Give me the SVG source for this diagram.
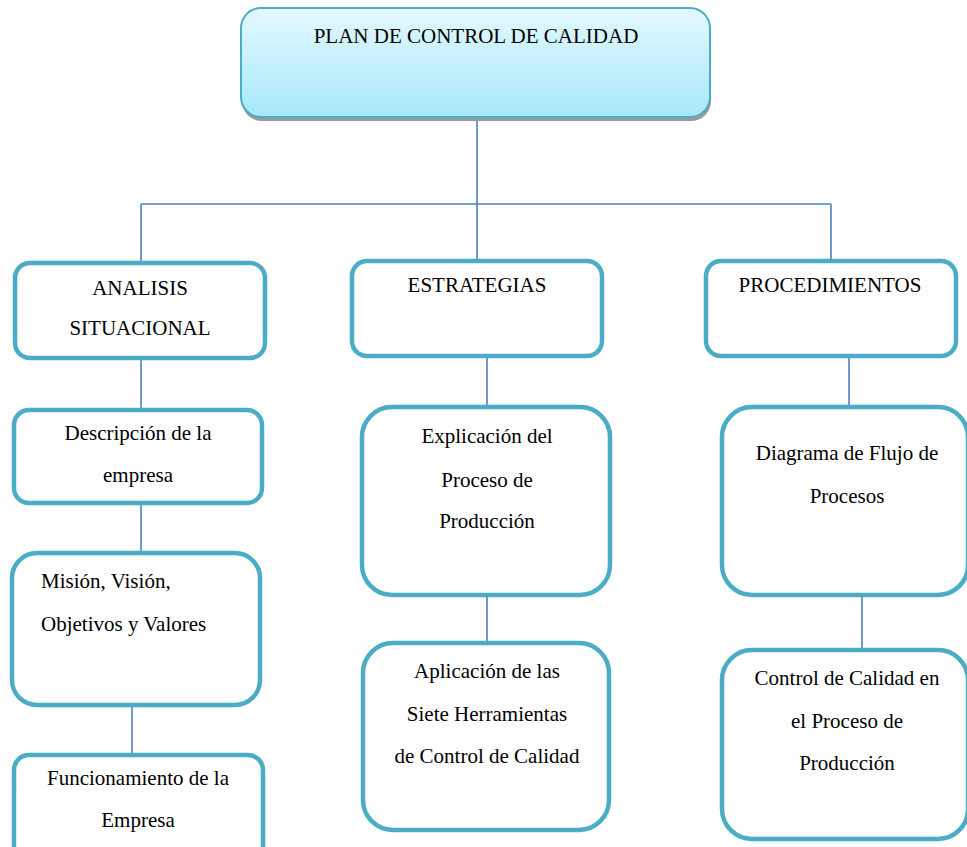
<svg xmlns="http://www.w3.org/2000/svg" width="967" height="847" viewBox="0 0 967 847" font-family="'Liberation Serif', 'Times New Roman', Times, serif">
<defs>
<linearGradient id="topgrad" x1="0" y1="0" x2="0" y2="1">
<stop offset="0" stop-color="#e4f8fd"/>
<stop offset="1" stop-color="#a6e8fb"/>
</linearGradient>
</defs>
<style>
.box{fill:#ffffff;stroke:#4bacc6;stroke-width:4.5}
.top{fill:url(#topgrad);stroke:#4bacc6;stroke-width:2}
.shadow{fill:#9a9a9a}
.conn{fill:none;stroke:#4f81bd;stroke-width:1.6}
text{font-family:'Liberation Serif','Times New Roman',Times,serif;font-size:21px;fill:#000000}
.c{text-anchor:middle}
</style>
<rect width="967" height="847" fill="#ffffff"/>
<g id="connectors">
<path class="conn" d="M477,117 V204 M141,204 H831 M141,204 V262 M477,204 V261 M831,204 V261"/>
<path class="conn" d="M141,358 V410 M141,503 V553 M132,703 V755"/>
<path class="conn" d="M487,356 V407 M487,594 V643"/>
<path class="conn" d="M849,356 V407 M862,590 V650"/>
</g>
<g id="plan">
<rect class="shadow" x="242" y="11" width="469" height="110" rx="20"/>
<rect class="top" x="241" y="8" width="469" height="109" rx="20"/>
<text class="c" x="476" y="43">PLAN DE CONTROL DE CALIDAD</text>
</g>
<g id="analisis">
<rect class="box" x="15" y="263" width="250" height="95" rx="15"/>
<text class="c" x="140" y="295">ANALISIS</text>
<text class="c" x="140" y="335">SITUACIONAL</text>
</g>
<g id="estrategias">
<rect class="box" x="352" y="261" width="250" height="95" rx="15"/>
<text class="c" x="477" y="292">ESTRATEGIAS</text>
</g>
<g id="procedimientos">
<rect class="box" x="706" y="261" width="250" height="95" rx="15"/>
<text class="c" x="830" y="292">PROCEDIMIENTOS</text>
</g>
<g id="descripcion">
<rect class="box" x="14" y="410" width="248" height="93" rx="15"/>
<text class="c" x="138" y="440">Descripción de la</text>
<text class="c" x="138" y="482">empresa</text>
</g>
<g id="mision">
<rect class="box" x="12" y="553" width="248" height="152" rx="25"/>
<text x="41" y="588">Misión, Visión,</text>
<text x="41" y="631">Objetivos y Valores</text>
</g>
<g id="funcionamiento">
<rect class="box" x="14" y="755" width="249" height="110" rx="15"/>
<text class="c" x="138" y="785">Funcionamiento de la</text>
<text class="c" x="138" y="827">Empresa</text>
</g>
<g id="explicacion">
<rect class="box" x="362" y="407" width="248" height="188" rx="30"/>
<text class="c" x="487" y="443">Explicación del</text>
<text class="c" x="487" y="487">Proceso de</text>
<text class="c" x="487" y="528">Producción</text>
</g>
<g id="aplicacion">
<rect class="box" x="363" y="643" width="246" height="187" rx="30"/>
<text class="c" x="487" y="678">Aplicación de las</text>
<text class="c" x="487" y="721">Siete Herramientas</text>
<text class="c" x="487" y="763">de Control de Calidad</text>
</g>
<g id="diagrama">
<rect class="box" x="722" y="407" width="246" height="188" rx="30"/>
<text class="c" x="847" y="460">Diagrama de Flujo de</text>
<text class="c" x="847" y="503">Procesos</text>
</g>
<g id="control">
<rect class="box" x="722" y="650" width="246" height="189" rx="30"/>
<text class="c" x="847" y="685">Control de Calidad en</text>
<text class="c" x="847" y="728">el Proceso de</text>
<text class="c" x="847" y="770">Producción</text>
</g>
</svg>
